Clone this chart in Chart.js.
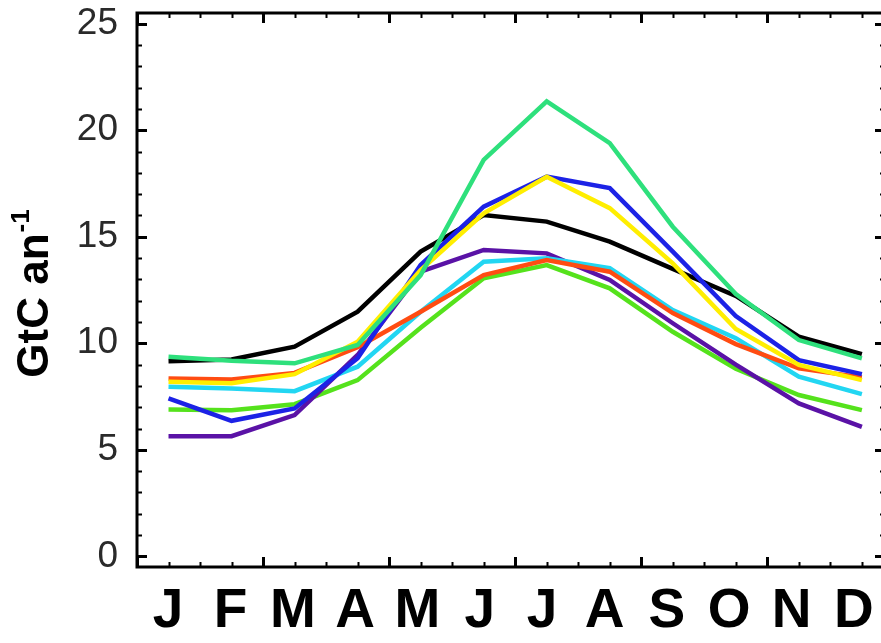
<!DOCTYPE html>
<html>
<head>
<meta charset="utf-8">
<title>GtC an-1</title>
<script src="https://cdn.jsdelivr.net/npm/chart.js@4.4.0/dist/chart.umd.min.js"></script>
<style>
  html, body { margin: 0; padding: 0; background: #fff; overflow: hidden; }
  #wrap { width: 890px; height: 643px; position: relative; }
</style>
</head>
<body>
<div id="wrap"><canvas id="chart"></canvas></div>
<script>
"use strict";

// x axis: months, placed at mid-month of a 360 day model year
const months = ["J", "F", "M", "A", "M", "J", "J", "A", "S", "O", "N", "D"];
const monthDays = [15, 45, 75, 105, 135, 165, 195, 225, 255, 285, 315, 345];
const yTicks = [0, 5, 10, 15, 20, 25];

// GtC an-1
const blackLine  = [9.16, 9.24, 9.84, 11.48, 14.30, 16.02, 15.71, 14.77, 13.49, 12.22, 10.31, 9.49];
const springLine = [9.37, 9.18, 9.06, 9.92, 13.20, 18.61, 21.35, 19.39, 15.47, 12.31, 10.15, 9.29];
const blueLine   = [7.41, 6.36, 6.94, 9.30, 13.67, 16.41, 17.82, 17.28, 14.30, 11.28, 9.21, 8.55];
const yellowLine = [8.19, 8.12, 8.55, 10.07, 13.44, 16.10, 17.81, 16.34, 13.75, 10.67, 8.98, 8.27];
const purpleLine = [5.64, 5.64, 6.63, 9.45, 13.36, 14.38, 14.22, 12.97, 10.94, 9.00, 7.18, 6.08];
const cyanLine   = [7.96, 7.88, 7.75, 8.90, 11.48, 13.83, 13.99, 13.52, 11.56, 10.24, 8.43, 7.61];
const orangeLine = [8.35, 8.30, 8.61, 9.82, 11.48, 13.20, 13.91, 13.36, 11.42, 9.96, 8.82, 8.40];
const limeLine   = [6.89, 6.86, 7.14, 8.27, 10.73, 13.05, 13.67, 12.58, 10.54, 8.80, 7.57, 6.86];

function toPoints(values) {
  return values.map((v, i) => ({ x: monthDays[i], y: v }));
}

function makeSet(values, color) {
  return {
    data: toPoints(values),
    borderColor: color,
    borderWidth: 4.5,
    pointRadius: 0,
    tension: 0,
    fill: false,
    xAxisID: "x",
    yAxisID: "y",
  };
}

// first in the list is drawn on top
const datasets = [
  makeSet(springLine, "#2ee07c"),
  makeSet(yellowLine, "#ffee00"),
  makeSet(blueLine, "#1c22e6"),
  makeSet(blackLine, "#000000"),
  makeSet(orangeLine, "#ff4c12"),
  makeSet(cyanLine, "#22d6f2"),
  makeSet(purpleLine, "#5a12a6"),
  makeSet(limeLine, "#55e21c"),
];

// IDL style box with inward ticks plus the rotated y title
const idlFrame = {
  id: "idlFrame",
  afterDraw(chart) {
    const ctx = chart.ctx;
    const a = chart.chartArea;
    const xs = chart.scales.x;
    const ys = chart.scales.y;
    ctx.save();
    ctx.strokeStyle = "#000";
    ctx.lineCap = "butt";

    for (let d = 0; d <= xs.max; d += 15) {
      const px = Math.round(xs.getPixelForValue(d)) + 0.5;
      const major = d % 60 === 0;
      const len = major ? 10 : 5;
      ctx.lineWidth = major ? 3 : 2;
      ctx.beginPath();
      ctx.moveTo(px, a.bottom);
      ctx.lineTo(px, a.bottom - len);
      ctx.moveTo(px, a.top);
      ctx.lineTo(px, a.top + len);
      ctx.stroke();
    }
    for (let v = 0; v <= 25; v++) {
      const py = Math.round(ys.getPixelForValue(v)) + 0.5;
      const major = v % 5 === 0;
      const len = major ? 10 : 5;
      ctx.lineWidth = major ? 3 : 2;
      ctx.beginPath();
      ctx.moveTo(a.left, py);
      ctx.lineTo(a.left + len, py);
      ctx.moveTo(a.right, py);
      ctx.lineTo(a.right - len, py);
      ctx.stroke();
    }

    ctx.lineWidth = 3;
    ctx.strokeRect(a.left, a.top, a.right - a.left, a.bottom - a.top);

    // y title: GtC an^-1
    ctx.translate(36, 294);
    ctx.rotate(-Math.PI / 2);
    ctx.fillStyle = "#000";
    ctx.textBaseline = "middle";
    ctx.textAlign = "left";
    const main = "GtC an";
    const sup = "-1";
    const bigFont = "bold 44px 'Liberation Sans', Arial, sans-serif";
    const smallFont = "bold 26px 'Liberation Sans', Arial, sans-serif";
    ctx.font = bigFont;
    const w1 = ctx.measureText(main).width;
    ctx.font = smallFont;
    const w2 = ctx.measureText(sup).width;
    const start = -(w1 + w2) / 2;
    ctx.font = bigFont;
    ctx.fillText(main, start, 0);
    ctx.font = smallFont;
    ctx.fillText(sup, start + w1 + 1, -14);
    ctx.restore();
  },
};

const config = {
  type: "line",
  data: { datasets: datasets },
  options: {
    responsive: true,
    maintainAspectRatio: false,
    animation: false,
    layout: { padding: { top: 13, right: 5, left: 0, bottom: 0 } },
    plugins: {
      legend: { display: false },
      tooltip: { enabled: false },
      title: { display: false },
    },
    scales: {
      x: {
        type: "linear",
        position: "bottom",
        min: 0,
        max: 356,
        display: false,
      },
      months: {
        type: "category",
        labels: months,
        position: "bottom",
        offset: true,
        grid: { display: false, drawTicks: false },
        border: { display: false },
        ticks: {
          color: "#000",
          padding: 12,
          autoSkip: false,
          maxRotation: 0,
          font: { family: "'Liberation Sans', Arial, sans-serif", size: 55, weight: "bold" },
        },
        afterFit(scale) {
          scale.height = 76;
          scale.paddingLeft = 0;
          scale.paddingRight = 0;
        },
      },
      y: {
        type: "linear",
        min: -0.5,
        max: 25.5,
        afterBuildTicks(scale) {
          scale.ticks = yTicks.map((v) => ({ value: v }));
        },
        grid: { display: false, drawTicks: false },
        border: { display: false },
        ticks: {
          color: "#2a2a2a",
          padding: 19,
          font: { family: "'Liberation Sans', Arial, sans-serif", size: 37 },
        },
        afterFit(scale) {
          scale.width = 137;
          scale.paddingTop = 0;
          scale.paddingBottom = 0;
        },
      },
    },
  },
  plugins: [idlFrame],
};

const myChart = new Chart(document.getElementById("chart"), config);
</script>
</body>
</html>
